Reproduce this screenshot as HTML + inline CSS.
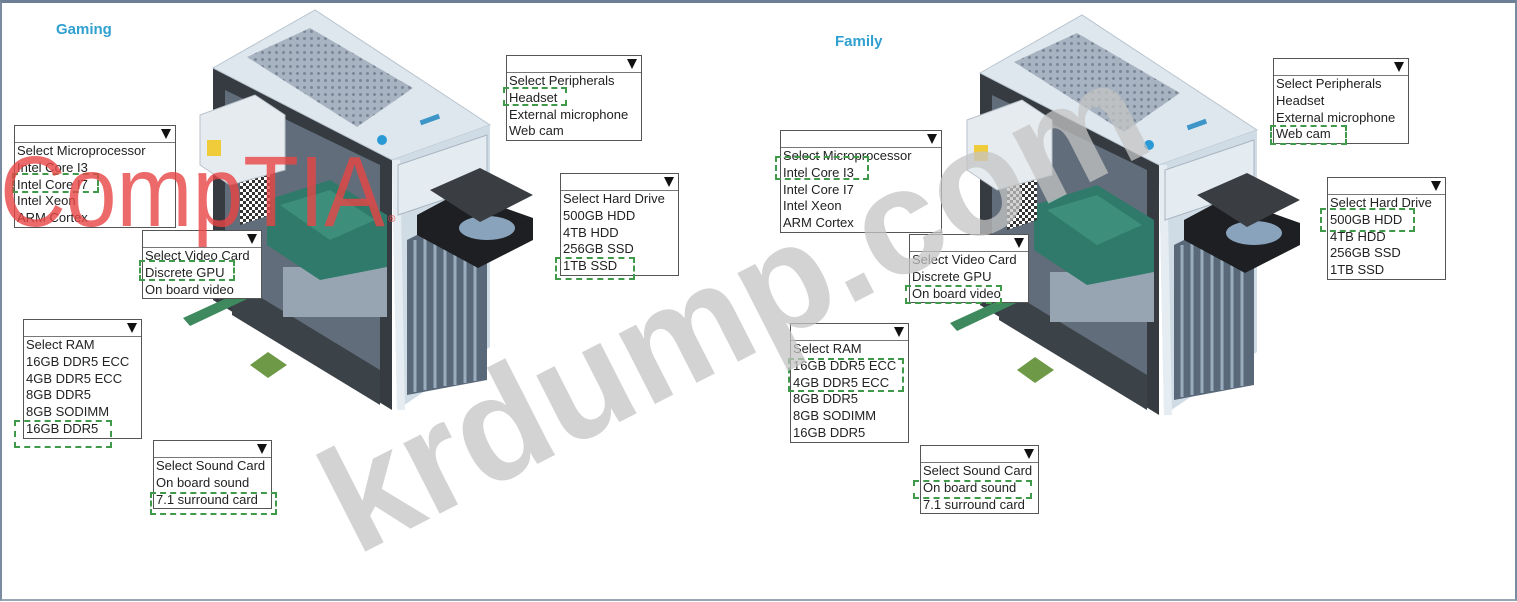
<!DOCTYPE html>
<html><head><meta charset="utf-8"><style>
html,body{margin:0;padding:0;background:#fff;}
#root{position:relative;width:1517px;height:602px;overflow:hidden;background:#fff;font-family:"Liberation Sans",sans-serif;}
.frame{position:absolute;left:0;top:0;width:1513px;height:596px;border-left:2px solid #7a8ba0;border-right:2px solid #7a8ba0;border-top:3px solid #6d7f95;border-bottom:2px solid #9aa6b4;}
.box{position:absolute;border:1px solid #555;background:#fff;font-size:13px;color:#222;line-height:16.8px;z-index:3;}
.box .hd{height:16px;border-bottom:1px solid #777;position:relative;}
.box .hd:after{content:"";position:absolute;right:4px;top:3px;border-left:5px solid transparent;border-right:5px solid transparent;border-top:10px solid #111;}
.box .l{padding-left:2px;white-space:nowrap;}
.sel{position:absolute;border:2px dashed #3f9a4a;z-index:4;}
.title{position:absolute;font-weight:bold;color:#2fa0cf;font-size:15px;}
svg{position:absolute;left:0;top:0;}
</style></head><body><div id="root">
<svg width="1517" height="602" viewBox="0 0 1517 602">
<defs>
<pattern id="dots" width="7" height="7" patternUnits="userSpaceOnUse"><rect width="7" height="7" fill="#a7b3c0"/><circle cx="3.5" cy="3.5" r="1.5" fill="#7a8797"/></pattern>
<pattern id="chk" width="6" height="6" patternUnits="userSpaceOnUse"><rect width="6" height="6" fill="#fff"/><rect width="3" height="3" fill="#333"/><rect x="3" y="3" width="3" height="3" fill="#333"/></pattern>
<g id="pc">
<polygon points="213,68 213,300 392,410 392,160" fill="#353b41"/>
<polygon points="225,90 225,290 380,385 380,165" fill="#616d7a"/>
<polygon points="232,280 380,370 380,405 232,315" fill="#3b4248"/>
<polygon points="283,267 387,267 387,317 283,317" fill="#97a5b3"/>
<polygon points="267,200 330,180 387,215 387,267 320,280 267,245" fill="#2f7a6a"/>
<polygon points="280,205 330,190 375,220 330,240" fill="#3d8f7c"/>
<polygon points="240,150 270,140 270,215 240,225" fill="url(#chk)"/>
<polygon points="200,115 255,95 285,115 285,170 230,185 200,165" fill="#e6ebef" stroke="#b9c2cb"/>
<rect x="207" y="140" width="14" height="16" fill="#f1cc3a"/>
<polygon points="183,318 255,285 262,292 190,326" fill="#3e8a5e"/>
<polygon points="250,365 268,352 287,365 268,378" fill="#6e9a48"/>
<polygon points="213,68 315,10 490,125 392,160" fill="#dfe7ee" stroke="#b8c4ce"/>
<polygon points="247,57 310,28 413,88 357,127" fill="url(#dots)"/>
<polygon points="392,160 490,125 490,347 397,410" fill="#cfdbe5"/>
<polygon points="392,160 400,160 405,410 397,410" fill="#e6edf2"/>
<polygon points="398,165 487,135 487,185 398,215" fill="#e4ebf1" stroke="#a9b6c2"/>
<circle cx="382" cy="140" r="5" fill="#2a9ad6"/>
<rect x="420" y="117" width="20" height="5" fill="#3d95c8" transform="rotate(-20 430 120)"/>
<polygon points="407,240 487,200 487,380 407,395" fill="#5a6979"/>
<g stroke="#9aadbf" stroke-width="3"><line x1="415" y1="240" x2="415" y2="392"/><line x1="425" y1="235" x2="425" y2="390"/><line x1="435" y1="230" x2="435" y2="388"/><line x1="445" y1="225" x2="445" y2="386"/><line x1="455" y1="220" x2="455" y2="385"/><line x1="465" y1="215" x2="465" y2="383"/><line x1="475" y1="210" x2="475" y2="381"/></g>
<polygon points="417,215 460,192 533,218 533,240 478,268 417,235" fill="#1d1f22"/>
<ellipse cx="487" cy="228" rx="28" ry="12" fill="#8aa3bd"/>
<polygon points="430,190 480,168 533,195 480,222" fill="#3a3d41"/>
</g>
</defs>
<use href="#pc"/>
<use href="#pc" transform="translate(767,5)"/>
</svg>
<div class="frame"></div>
<div class="title" style="left:56px;top:21px;">Gaming</div>
<div class="title" style="left:835px;top:33px;">Family</div>

<div class="box" style="left:506px;top:55px;width:134px;"><div class="hd"></div><div class="l">Select Peripherals</div><div class="l">Headset</div><div class="l">External microphone</div><div class="l">Web cam</div></div>
<div class="box" style="left:14px;top:125px;width:160px;"><div class="hd"></div><div class="l">Select Microprocessor</div><div class="l">Intel Core I3</div><div class="l">Intel Core I7</div><div class="l">Intel Xeon</div><div class="l">ARM Cortex</div></div>
<div class="box" style="left:560px;top:173px;width:117px;"><div class="hd"></div><div class="l">Select Hard Drive</div><div class="l">500GB HDD</div><div class="l">4TB HDD</div><div class="l">256GB SSD</div><div class="l">1TB SSD</div></div>
<div class="box" style="left:142px;top:230px;width:118px;"><div class="hd"></div><div class="l">Select Video Card</div><div class="l">Discrete GPU</div><div class="l">On board video</div></div>
<div class="box" style="left:23px;top:319px;width:117px;"><div class="hd"></div><div class="l">Select RAM</div><div class="l">16GB DDR5 ECC</div><div class="l">4GB DDR5 ECC</div><div class="l">8GB DDR5</div><div class="l">8GB SODIMM</div><div class="l">16GB DDR5</div></div>
<div class="box" style="left:153px;top:440px;width:117px;"><div class="hd"></div><div class="l">Select Sound Card</div><div class="l">On board sound</div><div class="l">7.1 surround card</div></div>

<div class="box" style="left:1273px;top:58px;width:134px;"><div class="hd"></div><div class="l">Select Peripherals</div><div class="l">Headset</div><div class="l">External microphone</div><div class="l">Web cam</div></div>
<div class="box" style="left:780px;top:130px;width:160px;"><div class="hd"></div><div class="l">Select Microprocessor</div><div class="l">Intel Core I3</div><div class="l">Intel Core I7</div><div class="l">Intel Xeon</div><div class="l">ARM Cortex</div></div>
<div class="box" style="left:1327px;top:177px;width:117px;"><div class="hd"></div><div class="l">Select Hard Drive</div><div class="l">500GB HDD</div><div class="l">4TB HDD</div><div class="l">256GB SSD</div><div class="l">1TB SSD</div></div>
<div class="box" style="left:909px;top:234px;width:118px;"><div class="hd"></div><div class="l">Select Video Card</div><div class="l">Discrete GPU</div><div class="l">On board video</div></div>
<div class="box" style="left:790px;top:323px;width:117px;"><div class="hd"></div><div class="l">Select RAM</div><div class="l">16GB DDR5 ECC</div><div class="l">4GB DDR5 ECC</div><div class="l">8GB DDR5</div><div class="l">8GB SODIMM</div><div class="l">16GB DDR5</div></div>
<div class="box" style="left:920px;top:445px;width:117px;"><div class="hd"></div><div class="l">Select Sound Card</div><div class="l">On board sound</div><div class="l">7.1 surround card</div></div>

<div class="sel" style="left:503px;top:87px;width:60px;height:15px;"></div>
<div class="sel" style="left:12px;top:173px;width:83px;height:16px;"></div>
<div class="sel" style="left:139px;top:260px;width:92px;height:17px;"></div>
<div class="sel" style="left:14px;top:420px;width:94px;height:24px;"></div>
<div class="sel" style="left:555px;top:257px;width:76px;height:19px;"></div>
<div class="sel" style="left:150px;top:492px;width:123px;height:19px;"></div>
<div class="sel" style="left:1270px;top:125px;width:73px;height:16px;"></div>
<div class="sel" style="left:775px;top:156px;width:90px;height:20px;"></div>
<div class="sel" style="left:905px;top:285px;width:93px;height:15px;"></div>
<div class="sel" style="left:788px;top:358px;width:112px;height:30px;"></div>
<div class="sel" style="left:1320px;top:208px;width:91px;height:20px;"></div>
<div class="sel" style="left:913px;top:480px;width:115px;height:15px;"></div>

<svg width="1517" height="602" viewBox="0 0 1517 602" style="z-index:5;pointer-events:none;">
<text x="0" y="226" font-family="Liberation Sans" font-size="100" fill="#e84545" fill-opacity="0.8" textLength="385" lengthAdjust="spacingAndGlyphs">CompTIA</text>
<text x="388" y="222" font-family="Liberation Sans" font-size="10" fill="#e84545">®</text>
<text x="757" y="352" text-anchor="middle" transform="rotate(-27 757 352)" font-family="Liberation Sans" font-weight="bold" font-size="150" fill="#c4c4c4" fill-opacity="0.75">krdump.com</text>
</svg>
</div></body></html>
